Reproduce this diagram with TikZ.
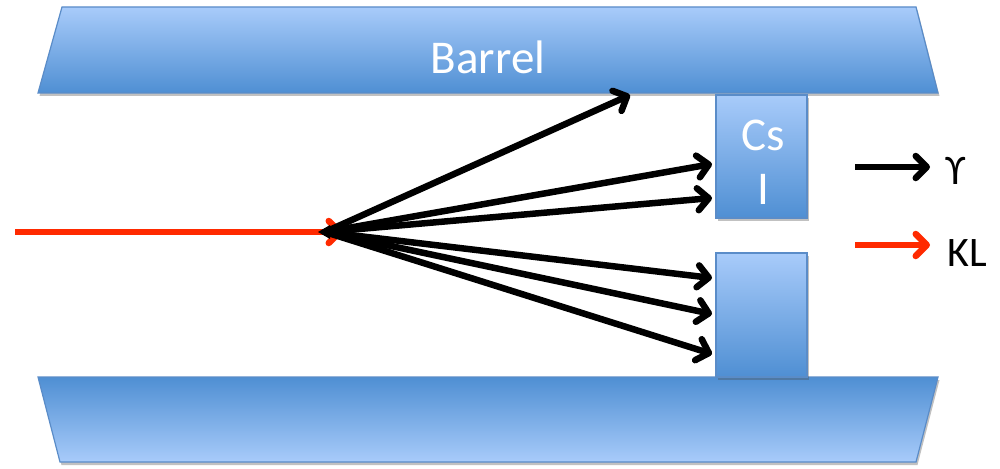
\documentclass[tikz,border=0pt]{standalone}
\usepackage{fontspec}
\setmainfont{Carlito}
\usetikzlibrary{arrows.meta,shadows}
\definecolor{lightblue}{HTML}{A8CBFA}
\definecolor{darkblue}{HTML}{4F8FD3}
\definecolor{edgeblue}{HTML}{5A8CC8}
\definecolor{beamred}{HTML}{FF2A00}
\tikzset{
  detector/.style={draw=edgeblue, line width=1.2pt,
    drop shadow={shadow xshift=1.5pt, shadow yshift=-3pt, opacity=0.35, fill=black!70}},
  photon/.style={line width=6.5pt, black,
    -{Straight Barb[length=11pt,width=22pt,line cap=round,line join=round]}},
  kaon/.style={line width=6.5pt, beamred,
    -{Straight Barb[length=11pt,width=22pt,line cap=round,line join=round]}},
  label/.style={font=\fontsize{47}{50}\selectfont, text=white},
  legendtext/.style={font=\fontsize{42}{46}\selectfont, text=black, anchor=west}
}
\begin{document}
\begin{tikzpicture}[x=1pt,y=-1pt]
\useasboundingbox (0,0) rectangle (1000,468);

% barrel calorimeter, upper and lower halves
\path[detector, top color=lightblue, bottom color=darkblue]
  (62,7) -- (916,7) -- (938,93) -- (38,93) -- cycle;
\node[label] (barrel) at (488,57) {Barrel};
\path[detector, top color=darkblue, bottom color=lightblue]
  (38,377) -- (938,377) -- (916,462) -- (60,462) -- cycle;

% CsI end cap blocks
\path[detector, top color=lightblue, bottom color=darkblue]
  (716,95) rectangle (807,218);
\node[label] (cs) at (763,135) {Cs};
\node[label] (i) at (763,189) {I};
\path[detector, top color=lightblue, bottom color=darkblue]
  (716,253) rectangle (807,377);

% decay vertex and photon end points
\coordinate (start) at (15,232);
\coordinate (vertex) at (325,232);
\coordinate (kend) at (343,232);
\coordinate (g1) at (630,95);
\coordinate (g2) at (712,164);
\coordinate (g3) at (712,198);
\coordinate (g4) at (712,278);
\coordinate (g5) at (712,314);
\coordinate (g6) at (712,354);

\draw[kaon] (start) -- (kend);
\foreach \g in {g1,g2,g3,g4,g5,g6}
  \draw[photon, line cap=round] (vertex) -- (\g);
\fill (vertex) ++(-7,0) -- ++(12,-7) -- ++(0,14) -- cycle;

% legend
\coordinate (la1) at (855,167);
\coordinate (lb1) at (930,167);
\coordinate (la2) at (855,245);
\coordinate (lb2) at (930,245);
\draw[photon] (la1) -- (lb1);
\draw[kaon] (la2) -- (lb2);
\node[legendtext] (gamma) at (942,171) {ϒ};
\node[legendtext] (kl) at (944,253) {KL};
\end{tikzpicture}
\end{document}
